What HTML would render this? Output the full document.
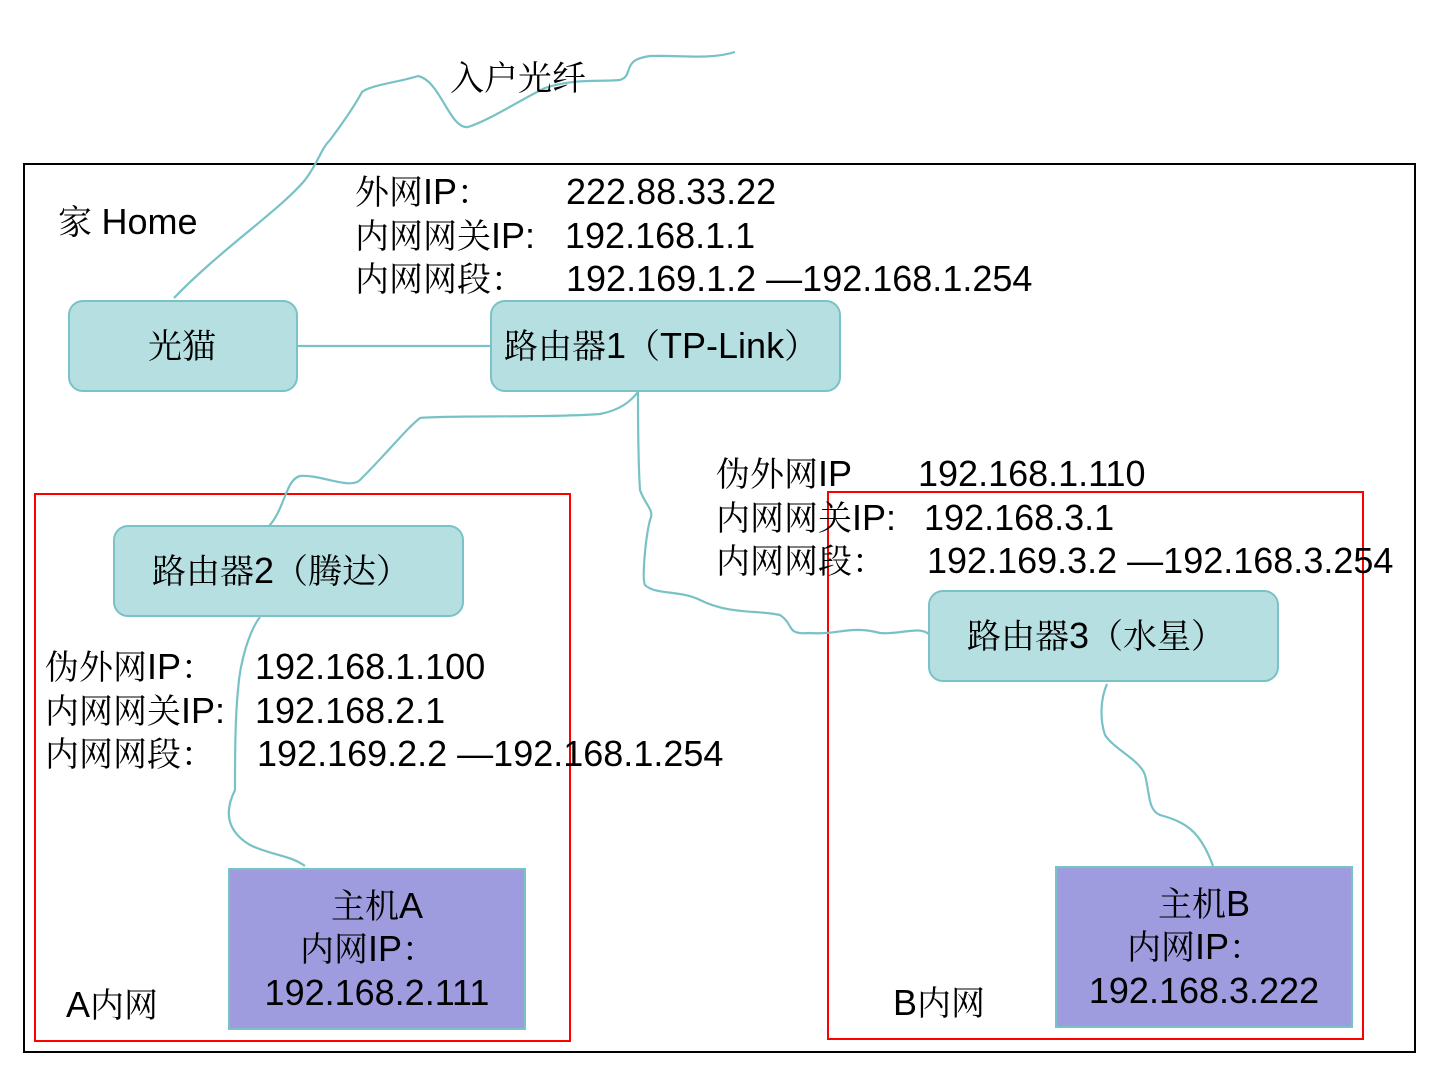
<!DOCTYPE html>
<html><head><meta charset="utf-8"><style>
html,body{margin:0;padding:0;background:#fff;}
svg{display:block;}
text{font-family:"Liberation Sans","Noto Serif CJK SC",sans-serif;font-size:34px;fill:#000;}
.v{font-size:36px;}
</style></head><body>
<svg width="1430" height="1078" viewBox="0 0 1430 1078" xmlns="http://www.w3.org/2000/svg">
<rect x="24" y="164" width="1391" height="888" fill="none" stroke="#000" stroke-width="2"/>
<rect x="35" y="494" width="535" height="547" fill="none" stroke="#f00" stroke-width="2"/>
<rect x="828" y="492" width="535" height="547" fill="none" stroke="#f00" stroke-width="2"/>
<g fill="none" stroke="#78c2c6" stroke-width="2.2">
<path d="M174 298 C220 250 280 210 305 180 C320 160 320 150 330 140 C345 120 355 105 362 92 C370 85 400 82 418 76 C440 80 450 130 468 127 C490 120 520 100 545 88 C575 78 600 82 620 80 C635 75 620 60 650 56 C680 55 710 60 735 52"/>
<path d="M298 346 L492 346"/>
<path d="M268 527 C285 510 285 480 300 476 C320 474 350 490 360 480 C390 450 405 430 420 418 C450 415 550 418 600 414 C620 410 630 402 638 392"/>
<path d="M638 392 C638 420 638 460 640 490 C645 505 655 510 650 520 C645 540 642 580 645 585 C655 595 680 590 700 600 C730 615 760 610 780 615 C795 625 785 635 810 633 C840 635 850 625 880 633 C900 635 920 625 930 635"/>
<path d="M260 617 C250 630 240 660 238 690 C235 720 235 760 235 790 C225 810 225 830 250 845 C270 855 290 855 305 866"/>
<path d="M1107 684 C1100 700 1100 720 1105 735 C1115 750 1140 760 1145 775 C1150 795 1148 810 1160 815 C1185 822 1200 830 1213 866"/>
</g>
<rect x="69" y="301" width="228" height="90" rx="14" fill="#b6dfe1" stroke="#79c2c6" stroke-width="2"/>
<rect x="491" y="301" width="349" height="90" rx="14" fill="#b6dfe1" stroke="#79c2c6" stroke-width="2"/>
<rect x="114" y="526" width="349" height="90" rx="14" fill="#b6dfe1" stroke="#79c2c6" stroke-width="2"/>
<rect x="929" y="591" width="349" height="90" rx="14" fill="#b6dfe1" stroke="#79c2c6" stroke-width="2"/>
<rect x="229" y="869" width="296" height="160" fill="#9e9bde" stroke="#79c2c6" stroke-width="2"/>
<rect x="1056" y="867" width="296" height="160" fill="#9e9bde" stroke="#79c2c6" stroke-width="2"/>
<text x="450" y="90">入户光纤</text>
<text x="58" y="234">家 <tspan class="v">Home</tspan></text>
<text x="355" y="204">外网<tspan class="v">IP</tspan>：</text><text class="v" x="566" y="204">222.88.33.22</text>
<text x="355" y="248">内网网关<tspan class="v">IP:</tspan></text><text class="v" x="565" y="248">192.168.1.1</text>
<text x="355" y="291">内网网段：</text><text class="v" x="566" y="291">192.169.1.2 —192.168.1.254</text>
<text x="148" y="358">光猫</text>
<text x="504" y="358">路由器<tspan class="v">1</tspan>（<tspan class="v">TP-Link</tspan>）</text>
<text x="716" y="486">伪外网<tspan class="v">IP</tspan></text><text class="v" x="918" y="486">192.168.1.110</text>
<text x="716" y="530">内网网关<tspan class="v">IP:</tspan></text><text class="v" x="924" y="530">192.168.3.1</text>
<text x="716" y="573">内网网段：</text><text class="v" x="927" y="573">192.169.3.2 —192.168.3.254</text>
<text x="152" y="583">路由器<tspan class="v">2</tspan>（腾达）</text>
<text x="967" y="648">路由器<tspan class="v">3</tspan>（水星）</text>
<text x="45" y="679">伪外网<tspan class="v">IP</tspan>：</text><text class="v" x="255" y="679">192.168.1.100</text>
<text x="45" y="723">内网网关<tspan class="v">IP:</tspan></text><text class="v" x="255" y="723">192.168.2.1</text>
<text x="45" y="766">内网网段：</text><text class="v" x="257" y="766">192.169.2.2 —192.168.1.254</text>
<text x="377" y="918" text-anchor="middle">主机<tspan class="v">A</tspan></text>
<text x="368" y="961" text-anchor="middle">内网<tspan class="v">IP</tspan>：</text>
<text class="v" x="377" y="1005" text-anchor="middle">192.168.2.111</text>
<text x="1204" y="916" text-anchor="middle">主机<tspan class="v">B</tspan></text>
<text x="1195" y="959" text-anchor="middle">内网<tspan class="v">IP</tspan>：</text>
<text class="v" x="1204" y="1003" text-anchor="middle">192.168.3.222</text>
<text x="66" y="1017"><tspan class="v">A</tspan>内网</text>
<text x="893" y="1015"><tspan class="v">B</tspan>内网</text>
</svg>
</body></html>
